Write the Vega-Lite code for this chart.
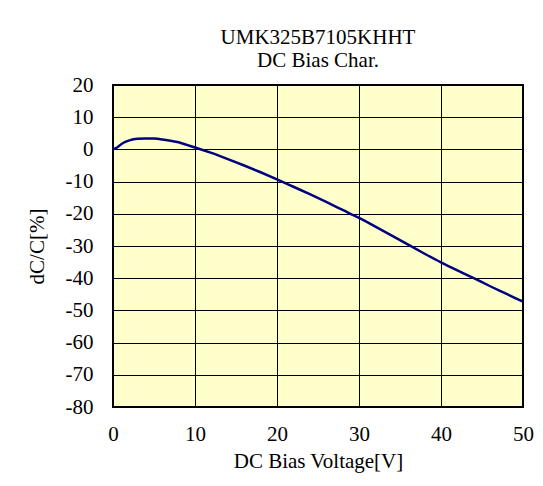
{
  "$schema": "https://vega.github.io/schema/vega-lite/v6.json",
  "width": 410,
  "height": 322,
  "autosize": {"type": "none"},
  "padding": {"left": 113, "top": 85, "right": 20, "bottom": 79},
  "background": "white",
  "title": {
    "text": ["UMK325B7105KHHT", "DC Bias Char."],
    "font": "Liberation Serif",
    "fontSize": 21,
    "fontWeight": "normal",
    "color": "black",
    "lineHeight": 23,
    "offset": 3
  },
  "data": {
    "values": [
      {"v": 0, "c": 0},
      {"v": 0.5, "c": 0.6},
      {"v": 1, "c": 1.6},
      {"v": 1.5, "c": 2.3},
      {"v": 2, "c": 2.8},
      {"v": 3, "c": 3.3},
      {"v": 4, "c": 3.4},
      {"v": 5, "c": 3.35},
      {"v": 6, "c": 3.1},
      {"v": 7, "c": 2.7},
      {"v": 8, "c": 2.2},
      {"v": 9, "c": 1.4},
      {"v": 10, "c": 0.6},
      {"v": 12, "c": -1.1},
      {"v": 14, "c": -3.0},
      {"v": 16, "c": -5.0},
      {"v": 18, "c": -7.1},
      {"v": 20, "c": -9.3},
      {"v": 22, "c": -11.6},
      {"v": 24, "c": -13.9},
      {"v": 26, "c": -16.3},
      {"v": 28, "c": -18.8},
      {"v": 30, "c": -21.3},
      {"v": 32, "c": -24.0},
      {"v": 34, "c": -26.8},
      {"v": 36, "c": -29.6},
      {"v": 38, "c": -32.4},
      {"v": 40, "c": -35.1},
      {"v": 42, "c": -37.6},
      {"v": 44, "c": -40.0},
      {"v": 46, "c": -42.5},
      {"v": 48, "c": -44.9},
      {"v": 50, "c": -47.3}
    ]
  },
  "mark": {"type": "line", "color": "#000080", "strokeWidth": 2.5, "interpolate": "monotone"},
  "encoding": {
    "x": {
      "field": "v",
      "type": "quantitative",
      "scale": {"domain": [0, 50], "nice": false},
      "axis": {
        "title": "DC Bias Voltage[V]",
        "values": [0, 10, 20, 30, 40, 50],
        "labelExpr": "'' + datum.value",
        "ticks": false,
        "domain": false,
        "labelPadding": 16,
        "titlePadding": 6,
        "labelFlush": false,
        "labelFont": "Liberation Serif",
        "titleFont": "Liberation Serif"
      }
    },
    "y": {
      "field": "c",
      "type": "quantitative",
      "scale": {"domain": [-80, 20], "nice": false},
      "axis": {
        "title": "dC/C[%]",
        "values": [-80, -70, -60, -50, -40, -30, -20, -10, 0, 10, 20],
        "labelExpr": "'' + datum.value",
        "ticks": false,
        "domain": false,
        "labelPadding": 20,
        "titlePadding": 18,
        "labelFlush": false,
        "labelFont": "Liberation Serif",
        "titleFont": "Liberation Serif"
      }
    }
  },
  "config": {
    "view": {"fill": "#FFFFCC", "stroke": "black", "strokeWidth": 2},
    "axis": {
      "grid": true,
      "gridColor": "black",
      "gridOpacity": 1,
      "gridWidth": 1,
      "labelFont": "Liberation Serif",
      "labelFontSize": 21,
      "labelColor": "black",
      "titleFont": "Liberation Serif",
      "titleFontSize": 21,
      "titleFontWeight": "normal",
      "titleColor": "black"
    }
  }
}
